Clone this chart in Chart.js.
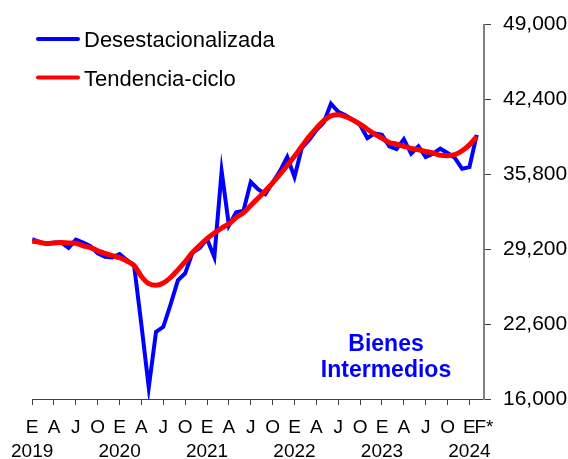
<!DOCTYPE html>
<html>
<head>
<meta charset="utf-8">
<script src="https://cdn.jsdelivr.net/npm/chart.js@4"></script>
<style>
    html, body { margin: 0; padding: 0; background: #fff; }
    #wrap { width: 568px; height: 459px; }
</style>
</head>
<body>
<div id="wrap"><canvas id="chart"></canvas></div>
<script>
// meses: ene 2019 ... feb 2024 (62 valores)
const desestacionalizada = [
    30080, 29850, 29650, 29790, 29790, 29320, 30050, 29790, 29470, 28830, 28540, 28480,
    28770, 28250, 27730, 22500, 17020, 21920, 22360, 24330, 26450, 27080, 28900, 29300,
    30100, 28500, 36090, 31300, 32450, 32600, 35130, 34490, 34050, 35070, 36090, 37330,
    35570, 38120, 38840, 39710, 40350, 42030, 41310, 41020, 40600, 40150, 39000, 39420,
    39280, 38270, 38030, 38900, 37620, 38270, 37330, 37620, 38060, 37680, 37250, 36290,
    36440, 39280
]
const tendencia = [
    29900, 29820, 29700, 29760, 29790, 29760, 29730, 29500, 29350, 29060, 28830, 28630,
    28450, 28160, 27760, 26800, 26160, 26020, 26220, 26710, 27380, 28100, 28910, 29550,
    30130, 30630, 31070, 31440, 32000, 32400, 33050, 33700, 34350, 35050, 35790, 36580,
    37390, 38270, 39130, 39860, 40530, 40960, 41050, 40880, 40600, 40230, 39780, 39350,
    38990, 38610, 38470, 38270, 38090, 37970, 37830, 37680, 37480, 37450, 37530, 37880,
    38400, 39130
]
const tickLetters = ['E', 'A', 'J', 'O']
const tickYears = ['2019', '2020', '2021', '2022', '2023', '2024']
const lastLabel = 'F*'
const yTicks = [16000, 22600, 29200, 35800, 42400, 49000]
const seriesNames = ['Desestacionalizada', 'Tendencia-ciclo']
const chartTitle = ['Bienes', 'Intermedios']

const FONT = '"Liberation Sans", Arial, sans-serif'
const AXIS = '#808080'

const lastIndex = desestacionalizada.length // borde derecho del eje

const overlay = {
    id: 'overlay',
    afterDraw(chart) {
        const ctx = chart.ctx
        ctx.save()
        // leyenda
        const rows = [39, 77.5]
        chart.data.datasets.forEach((ds, k) => {
            const y = rows[k]
            ctx.strokeStyle = ds.borderColor
            ctx.lineWidth = 4
            ctx.lineCap = 'round'
            ctx.beginPath()
            ctx.moveTo(38, y)
            ctx.lineTo(78, y)
            ctx.stroke()
            ctx.fillStyle = '#000'
            ctx.font = '22px ' + FONT
            ctx.textBaseline = 'alphabetic'
            ctx.textAlign = 'left'
            ctx.fillText(ds.label, 84, y + 8)
        })
        // titulo
        ctx.fillStyle = '#0000FF'
        ctx.font = 'bold 23px ' + FONT
        ctx.textAlign = 'center'
        ctx.fillText(chartTitle[0], 386, 351)
        ctx.fillText(chartTitle[1], 386, 377)
        ctx.restore()
    }
}

new Chart(document.getElementById('chart'), {
    type: 'line',
    data: {
        datasets: [{
            label: seriesNames[0],
            data: desestacionalizada.map((v, i) => ({ x: i, y: v })),
            borderColor: '#0000FF',
            borderWidth: 4,
            pointRadius: 0,
            tension: 0,
            order: 2
        }, {
            label: seriesNames[1],
            data: tendencia.map((v, i) => ({ x: i, y: v })),
            borderColor: '#FF0000',
            borderWidth: 5,
            pointRadius: 0,
            tension: 0.4,
            cubicInterpolationMode: 'monotone',
            order: 1
        }]
    },
    options: {
        responsive: true,
        maintainAspectRatio: false,
        animation: false,
        events: [],
        layout: { padding: { left: 32, top: 19, right: 0, bottom: 0 } },
        plugins: { legend: { display: false }, tooltip: { enabled: false } },
        scales: {
            x: {
                type: 'linear',
                min: 0,
                max: lastIndex,
                afterBuildTicks: axis => {
                    const ticks = []
                    for (let v = 0; v < lastIndex - 1; v += 3) ticks.push({ value: v })
                    ticks.push({ value: lastIndex })
                    axis.ticks = ticks
                },
                afterFit: axis => { axis.height = 60 },
                ticks: {
                    autoSkip: false,
                    maxRotation: 0,
                    padding: 11,
                    color: '#000',
                    font: { family: FONT, size: 19, lineHeight: 1.25 },
                    callback: v => {
                        if (v === lastIndex) return lastLabel
                        const letter = tickLetters[(v % 12) / 3]
                        if (v % 12 === 0) return [letter, tickYears[v / 12]]
                        return letter
                    }
                },
                grid: {
                    drawOnChartArea: false,
                    tickLength: 6,
                    tickColor: c => c.tick && c.tick.value === lastIndex ? 'rgba(0,0,0,0)' : '#404040'
                },
                border: { color: '#404040', width: 1 }
            },
            y: {
                position: 'right',
                min: yTicks[0],
                max: yTicks[yTicks.length - 1],
                afterBuildTicks: axis => { axis.ticks = yTicks.map(v => ({ value: v })) },
                afterFit: axis => { axis.width = 84 },
                ticks: {
                    padding: 12,
                    color: '#000',
                    font: { family: FONT, size: 21 },
                    callback: v => v.toLocaleString('en-US')
                },
                grid: { drawOnChartArea: false, tickLength: 7, tickColor: '#404040' },
                border: { color: AXIS, width: 2 }
            }
        }
    },
    plugins: [overlay]
})
</script>
</body>
</html>
